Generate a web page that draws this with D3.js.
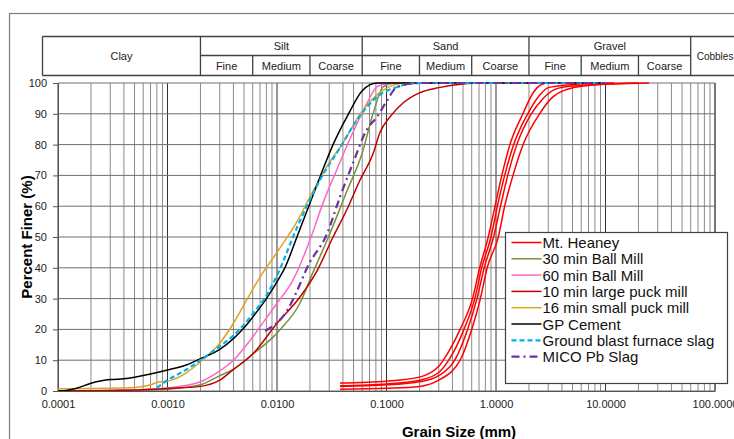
<!DOCTYPE html>
<html>
<head>
<meta charset="utf-8">
<script src="https://cdn.jsdelivr.net/npm/d3@7"></script>
<style>
  body { margin: 0; background: #fff; }
  svg { display: block; font-family: Arial, "Liberation Sans", sans-serif; }
</style>
</head>
<body>
<div id="chart"></div>
<script>
/* global d3 */

// ---- data: [grain size mm, percent finer] ----
const mtHeaney1 = [[0.0376,2.6],[0.1,3.2],[0.2,4.5],[0.3,8],[0.33,10],[0.47,20],[0.61,30],[0.71,40],[0.85,50],[0.98,60],[1.13,70],[1.34,80],[1.76,90],[2.2,97],[2.6,99.5],[3,100],[6,100]];
const mtHeaney2 = [[0.0376,1.7],[0.1,2.3],[0.2,3.5],[0.3,6],[0.37,10],[0.51,20],[0.64,30],[0.74,40],[0.9,50],[1.03,60],[1.2,70],[1.45,80],[1.95,90],[2.5,96],[3,98.5],[5,99.5],[9,100],[12,100]];
const mtHeaney3 = [[0.0376,1.5],[0.1,2],[0.2,3],[0.3,5],[0.42,10],[0.55,20],[0.67,30],[0.78,40],[0.95,50],[1.1,60],[1.28,70],[1.55,80],[2.1,90],[2.7,95],[3.5,98],[5,99],[20,100]];
const mtHeaney4 = [[0.0376,0.6],[0.1,0.9],[0.2,1.5],[0.3,3.5],[0.47,10],[0.6,20],[0.72,30],[0.83,40],[1.05,50],[1.2,60],[1.43,70],[1.77,80],[2.5,90],[3.2,95],[4.5,98],[9,99.5],[25,100]];
const ballMill30 = [[0.0001,0],[0.0005,0.2],[0.001,0.6],[0.002,2],[0.003,5],[0.004,7],[0.006,12],[0.0092,17.5],[0.0107,20],[0.0162,28.5],[0.0213,38.5],[0.0295,50],[0.0436,65],[0.0597,77],[0.0753,90],[0.0929,98.7],[0.12,100],[10,100]];
const ballMill60 = [[0.0001,0],[0.0003,0.2],[0.0006,0.5],[0.001,1],[0.002,3],[0.003,6.5],[0.004,10],[0.0057,16.5],[0.0081,24],[0.01,28.5],[0.014,36],[0.02,49],[0.0263,61],[0.0353,72],[0.0494,84],[0.0664,93.5],[0.0836,99],[0.12,100],[10,100]];
const largePuck10 = [[0.0001,0],[0.0003,0.2],[0.0006,0.4],[0.001,0.8],[0.002,1.5],[0.003,3.5],[0.004,7],[0.006,12],[0.01,22],[0.0162,30.5],[0.0232,39],[0.0325,50],[0.0436,59],[0.0573,68.5],[0.0753,77],[0.0873,84],[0.1076,89],[0.1416,93.5],[0.2,96.8],[0.3,98.5],[0.5,99.7],[0.7,100],[10,100]];
const smallPuck16 = [[0.0001,0.7],[0.0002,0.8],[0.0003,0.9],[0.0005,1.1],[0.0006,1.5],[0.0007,2],[0.0008,2.8],[0.001,3.2],[0.0015,6],[0.002,9.5],[0.003,15.5],[0.004,22],[0.005,28],[0.006,33],[0.007,37],[0.01,45],[0.0155,55.5],[0.02,63],[0.0287,73],[0.04,80.5],[0.059,90.5],[0.093,97.7],[0.15,100],[10,100]];
const gpCement = [[0.0001,0],[0.00012,0.2],[0.00015,1],[0.0002,2.5],[0.00025,3.3],[0.0003,3.7],[0.0004,4],[0.0005,4.5],[0.0007,5.5],[0.001,6.8],[0.0015,8.5],[0.002,10.5],[0.003,13.5],[0.004,17],[0.005,20.5],[0.006,24],[0.008,30],[0.0106,37],[0.0118,40],[0.0152,50],[0.0195,60],[0.025,70],[0.0325,80],[0.045,90],[0.06,97.5],[0.082,100],[10,100]];
const blastSlag = [[0.0008,1],[0.001,3.5],[0.0015,7],[0.002,10],[0.003,14.5],[0.004,18],[0.006,25],[0.008,31],[0.01,37.5],[0.0152,53],[0.0247,68.5],[0.0376,79],[0.0538,88],[0.0819,95.5],[0.125,98.7],[0.2,100],[10,100]];
const micoSlag = [[0.0078,19.5],[0.0123,26],[0.0173,37],[0.0188,40],[0.0286,51],[0.0376,63],[0.0494,74],[0.0664,85],[0.082,89],[0.1,94],[0.125,98.7],[0.2,100],[10,100]];

const legendNames = ['Mt. Heaney','30 min Ball Mill','60 min Ball Mill','10 min large puck mill','16 min small puck mill','GP Cement','Ground blast furnace slag','MICO Pb Slag'];
const seriesColors = ['#FF0000','#77933C','#FF66CC','#C00000','#DAA520','#000000','#00B0F0','#7030A0'];
const seriesDash = [null,null,null,null,null,null,'5,3','8,4,2,4'];

const xTicks = [0.0001, 0.001, 0.01, 0.1, 1, 10, 100];
const yTicks = [0,10,20,30,40,50,60,70,80,90,100];

// classification header: [label, from mm, to mm]
const mainClasses = [['Clay',null,0.002],['Silt',0.002,0.06],['Sand',0.06,2],['Gravel',2,60],['Cobbles',60,null]];
const subClasses = [['Fine',0.002,0.006],['Medium',0.006,0.02],['Coarse',0.02,0.06],
                    ['Fine',0.06,0.2],['Medium',0.2,0.6],['Coarse',0.6,2],
                    ['Fine',2,6],['Medium',6,20],['Coarse',20,60]];

/* -----------------    DRAW     ------------------ */

const W = 734, H = 439;
const svg = d3.select('#chart').append('svg').attr('width', W).attr('height', H);

const x = d3.scaleLog().domain([0.0001, 100]).range([58, 715]);
const y = d3.scaleLinear().domain([0, 100]).range([391, 83]);

// outer chart frame
svg.append('rect').attr('x', 9.5).attr('y', 13.5).attr('width', 800).attr('height', 500)
  .attr('fill', 'none').attr('stroke', '#7f7f7f').attr('stroke-width', 1.2);

// vertical grid: every 1..9 per decade
const minor = [];
for (let e = -4; e <= 1; e++) for (let k = 1; k <= 9; k++) minor.push(k * Math.pow(10, e));
minor.push(100);

svg.append('g').selectAll('line').data(minor).join('line')
  .attr('x1', d => x(d)).attr('x2', d => x(d))
  .attr('y1', y(0)).attr('y2', y(100))
  .attr('stroke', d => xTicks.includes(d) ? '#333' : '#8a8a8a')
  .attr('stroke-width', 1);

svg.append('g').selectAll('line').data(yTicks).join('line')
  .attr('x1', x(0.0001)).attr('x2', x(100))
  .attr('y1', d => y(d)).attr('y2', d => y(d))
  .attr('stroke', '#6e6e6e').attr('stroke-width', 1);

// axes
const yAxis = svg.append('g').attr('transform', `translate(${x(0.0001)},0)`)
  .call(d3.axisLeft(y).tickValues(yTicks).tickSize(5).tickPadding(6));
const xAxis = svg.append('g').attr('transform', `translate(0,${y(0)})`)
  .call(d3.axisBottom(x).tickValues(xTicks).tickSize(0).tickPadding(9).tickFormat(d3.format('.4f')));
[yAxis, xAxis].forEach(g => {
  g.select('.domain').attr('stroke', '#555');
  g.selectAll('.tick line').attr('stroke', '#555');
  g.selectAll('text').attr('font-size', 11).attr('fill', '#222')
    .attr('font-family', 'Arial, "Liberation Sans", sans-serif');
});
// right border of plot
svg.append('line').attr('x1', x(100)).attr('x2', x(100)).attr('y1', y(0)).attr('y2', y(100))
  .attr('stroke', '#555');

// axis titles
svg.append('text').attr('transform', `translate(32,${y(50)}) rotate(-90)`)
  .attr('text-anchor', 'middle').attr('font-size', 15).attr('font-weight', 'bold')
  .text('Percent Finer (%)');
svg.append('text').attr('x', 459).attr('y', 437)
  .attr('text-anchor', 'middle').attr('font-size', 15).attr('font-weight', 'bold')
  .text('Grain Size (mm)');

// classification header table
const hTop = 36.5, hMid = 55.5, hBot = 75.5, hLeft = 42.5, hRight = 760;
const header = svg.append('g').attr('stroke', '#404040').attr('stroke-width', 1.3);
header.append('line').attr('x1', hLeft).attr('x2', hRight).attr('y1', hTop).attr('y2', hTop);
header.append('line').attr('x1', hLeft).attr('x2', hRight).attr('y1', hBot).attr('y2', hBot);
header.append('line').attr('x1', x(0.002)).attr('x2', x(60)).attr('y1', hMid).attr('y2', hMid);
header.append('line').attr('x1', hLeft).attr('x2', hLeft).attr('y1', hTop).attr('y2', hBot);
header.selectAll('.mainDiv').data([0.002, 0.06, 2, 60]).join('line')
  .attr('x1', d => x(d)).attr('x2', d => x(d)).attr('y1', hTop).attr('y2', hBot);
header.selectAll('.subDiv').data([0.006, 0.02, 0.2, 0.6, 6, 20]).join('line')
  .attr('x1', d => x(d)).attr('x2', d => x(d)).attr('y1', hMid).attr('y2', hBot);

svg.append('g').selectAll('text').data(mainClasses).join('text')
  .attr('x', d => d[1] === null ? (hLeft + x(d[2])) / 2 : d[2] === null ? x(d[1]) + 6 : (x(d[1]) + x(d[2])) / 2)
  .attr('y', d => (d[1] === null || d[2] === null) ? 60 : 50)
  .attr('text-anchor', d => d[2] === null ? 'start' : 'middle')
  .attr('font-size', d => d[2] === null ? 10 : 11)
  .attr('fill', '#222')
  .text(d => d[0]);
svg.append('g').selectAll('text').data(subClasses).join('text')
  .attr('x', d => (x(d[1]) + x(d[2])) / 2).attr('y', 70)
  .attr('text-anchor', 'middle').attr('font-size', 11).attr('fill', '#222')
  .text(d => d[0]);

// curves
svg.append('clipPath').attr('id', 'plotClip').append('rect')
  .attr('x', x(0.0001)).attr('y', y(100) - 2).attr('width', x(100) - x(0.0001)).attr('height', y(0) - y(100) + 2);

const line = d3.line().x(d => x(d[0])).y(d => y(d[1])).curve(d3.curveMonotoneX);
const curves = [
  [mtHeaney1, 0], [mtHeaney2, 0], [mtHeaney3, 0], [mtHeaney4, 0],
  [ballMill30, 1], [ballMill60, 2], [largePuck10, 3], [smallPuck16, 4],
  [gpCement, 5], [blastSlag, 6], [micoSlag, 7]
];
svg.append('g').attr('clip-path', 'url(#plotClip)').selectAll('path').data(curves).join('path')
  .attr('d', d => line(d[0]))
  .attr('fill', 'none')
  .attr('stroke', d => seriesColors[d[1]])
  .attr('stroke-width', d => d[1] >= 6 ? 2.2 : 1.5)
  .attr('stroke-dasharray', d => seriesDash[d[1]]);

// legend
const lg = svg.append('g').attr('transform', 'translate(505.5,232.5)');
lg.append('rect').attr('width', 222).attr('height', 151)
  .attr('fill', '#fff').attr('stroke', '#404040').attr('stroke-width', 1.2);
const item = lg.selectAll('g').data(legendNames).join('g')
  .attr('transform', (d, i) => `translate(0,${10 + i * 16.3})`);
item.append('line').attr('x1', 6).attr('x2', 36).attr('y1', 0).attr('y2', 0)
  .attr('stroke', (d, i) => seriesColors[i])
  .attr('stroke-width', (d, i) => i >= 6 ? 2.2 : 1.5)
  .attr('stroke-dasharray', (d, i) => seriesDash[i]);
item.append('text').attr('x', 37).attr('y', 5.5).attr('font-size', 15).attr('fill', '#111')
  .text(d => d);
</script>
</body>
</html>
